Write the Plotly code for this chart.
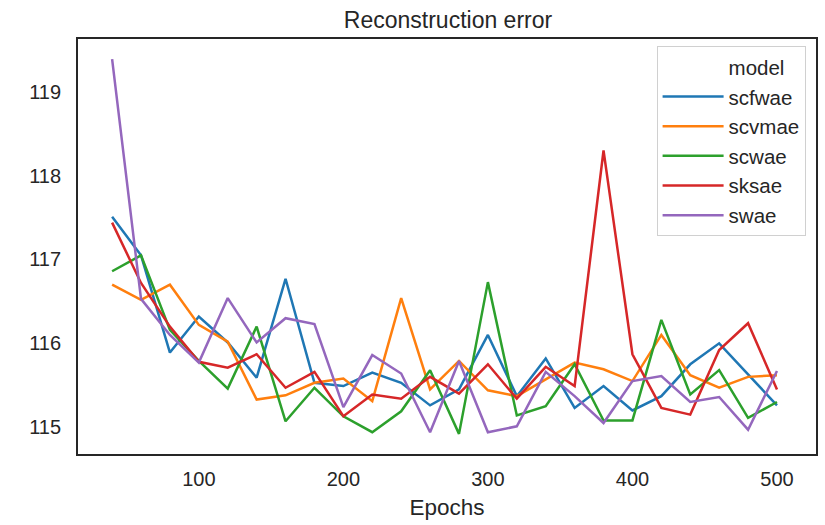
import plotly.graph_objects as go

epochs = list(range(40, 501, 20))

scfwae = [117.51, 117.05, 115.89, 116.32, 116.01, 115.59, 116.77, 115.53, 115.49, 115.65,
          115.53, 115.26, 115.45, 116.10, 115.37, 115.82, 115.23, 115.49, 115.20, 115.37,
          115.75, 116.00, 115.63, 115.26]
scvmae = [116.70, 116.52, 116.70, 116.22, 116.02, 115.33, 115.38, 115.53, 115.58, 115.31,
          116.54, 115.45, 115.79, 115.44, 115.37, 115.57, 115.77, 115.69, 115.55, 116.10,
          115.62, 115.47, 115.60, 115.62]
scwae = [116.86, 117.05, 116.16, 115.79, 115.46, 116.20, 115.07, 115.47, 115.13, 114.94,
         115.19, 115.68, 114.92, 116.73, 115.14, 115.25, 115.75, 115.08, 115.08, 116.28,
         115.39, 115.68, 115.11, 115.30]
sksae = [117.44, 116.72, 116.20, 115.78, 115.71, 115.87, 115.47, 115.66, 115.13, 115.39,
         115.34, 115.60, 115.40, 115.75, 115.34, 115.72, 115.49, 118.30, 115.87, 115.23,
         115.15, 115.92, 116.24, 115.45]
swae = [119.39, 116.53, 116.10, 115.77, 116.54, 116.01, 116.30, 116.23, 115.24, 115.86,
        115.64, 114.94, 115.79, 114.94, 115.01, 115.66, 115.37, 115.05, 115.55, 115.61,
        115.30, 115.36, 114.97, 115.67]

series = {"scfwae": scfwae, "scvmae": scvmae, "scwae": scwae, "sksae": sksae, "swae": swae}
colors = ["#1f77b4", "#ff7f0e", "#2ca02c", "#d62728", "#9467bd"]

TXT = "#262626"
FONT = "Liberation Sans, Arial, sans-serif"

fig = go.Figure()
fig.add_trace(go.Scatter(x=[None], y=[None], mode="lines", name="model",
                         line=dict(color="rgba(0,0,0,0)", width=2.5),
                         hoverinfo="skip"))
for i, (name, vals) in enumerate(series.items()):
    fig.add_trace(go.Scatter(x=epochs, y=vals, mode="lines", name=name,
                             line=dict(color=colors[i], width=2.5)))

fig.update_layout(
    width=825, height=525,
    margin=dict(l=78, r=7, t=39, b=71),
    paper_bgcolor="white", plot_bgcolor="white",
    font=dict(family=FONT, size=20, color=TXT),
    title=dict(text="Reconstruction error", x=(78 + 818) / 2 / 825, xanchor="center",
               y=1 - 20 / 525, yanchor="middle", yref="container",
               font=dict(size=23, color=TXT)),
    legend=dict(x=0.784, y=0.983, xanchor="left", yanchor="top",
                bgcolor="white", bordercolor="#d0d0d0", borderwidth=1,
                itemwidth=61, font=dict(size=20.5, color=TXT)),
    showlegend=True,
)
fig.update_xaxes(range=[16.4, 527], tickvals=[100, 200, 300, 400, 500],
                 showgrid=False, zeroline=False, showline=True, mirror=True,
                 linecolor=TXT, linewidth=1.8, ticks="", ticklabelstandoff=6,
                 title=dict(text="Epochs", standoff=10, font=dict(size=22.5, color=TXT)))
fig.update_yaxes(range=[114.68, 119.63], tickvals=[115, 116, 117, 118, 119],
                 showgrid=False, zeroline=False, showline=True, mirror=True,
                 linecolor=TXT, linewidth=1.8, ticks="", ticklabelstandoff=11)

fig.write_html("out.html")
